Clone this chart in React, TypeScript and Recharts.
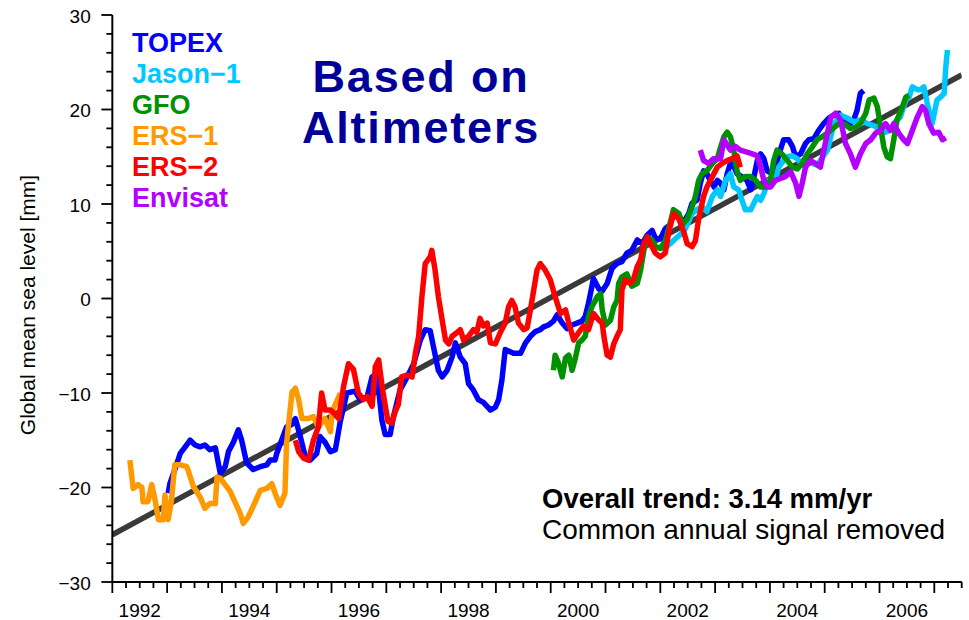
import React from "react";
import { LineChart, Line, XAxis, YAxis, Legend } from "recharts";

const FONT = '"Liberation Sans", Arial, Helvetica, sans-serif';

// [year, mm]
const topex: [number, number][] = [
  [1993.02, -20.6], [1993.05, -19.6], [1993.14, -18.1], [1993.24, -16.4], [1993.33, -15.7],
  [1993.42, -15.0], [1993.51, -15.5], [1993.6, -15.7], [1993.69, -15.5], [1993.78, -16.0],
  [1993.88, -15.8], [1993.97, -18.5], [1994.06, -17.8], [1994.12, -16.2], [1994.21, -15.2],
  [1994.3, -13.9], [1994.36, -15.0], [1994.45, -17.4], [1994.57, -18.1], [1994.7, -17.8],
  [1994.82, -17.6], [1994.88, -17.1], [1994.97, -17.1], [1995.0, -16.4], [1995.09, -15.0],
  [1995.18, -13.6], [1995.28, -13.3], [1995.34, -12.7], [1995.43, -14.6], [1995.52, -16.7],
  [1995.61, -17.1], [1995.73, -16.4], [1995.79, -14.6], [1995.88, -15.2], [1995.98, -16.2],
  [1996.07, -16.0], [1996.16, -13.0], [1996.28, -10.0], [1996.43, -9.8], [1996.52, -10.7],
  [1996.65, -10.4], [1996.74, -8.3], [1996.83, -8.0], [1996.92, -12.9], [1996.98, -14.4],
  [1997.07, -14.4], [1997.13, -12.5], [1997.25, -9.7], [1997.38, -8.3], [1997.5, -6.9],
  [1997.62, -4.4], [1997.71, -3.3], [1997.8, -3.4], [1997.86, -5.1], [1997.95, -7.6],
  [1998.02, -8.3], [1998.11, -7.6], [1998.2, -6.2], [1998.26, -4.7], [1998.35, -6.2],
  [1998.44, -6.9], [1998.5, -9.0], [1998.59, -9.7], [1998.68, -10.7], [1998.77, -11.0],
  [1998.9, -11.8], [1998.99, -11.5], [1999.05, -10.7], [1999.11, -8.6], [1999.17, -5.4],
  [1999.32, -5.8], [1999.45, -5.8], [1999.54, -4.7], [1999.63, -4.0], [1999.72, -3.5],
  [1999.81, -3.3], [1999.87, -3.0], [1999.96, -2.8], [2000.05, -2.4], [2000.12, -1.7],
  [2000.21, -2.6], [2000.3, -3.2], [2000.39, -2.8], [2000.48, -2.6], [2000.57, -2.4],
  [2000.63, -1.9], [2000.69, -0.5], [2000.78, 2.1], [2000.88, 1.0], [2000.94, 0.8],
  [2001.03, 1.6], [2001.12, 3.2], [2001.21, 3.7], [2001.3, 3.9], [2001.39, 4.8],
  [2001.48, 5.1], [2001.58, 6.2], [2001.67, 5.8], [2001.76, 6.7], [2001.85, 7.2],
  [2001.91, 6.4], [2002.0, 6.3], [2002.09, 7.4], [2002.18, 7.8], [2002.24, 9.0],
  [2002.34, 8.7], [2002.43, 8.1], [2002.52, 9.0], [2002.58, 10.1], [2002.67, 10.4],
  [2002.73, 12.2], [2002.79, 13.5], [2002.85, 13.2], [2002.91, 12.5], [2002.98, 11.8],
  [2003.04, 12.5], [2003.1, 12.2], [2003.16, 11.5], [2003.22, 13.2], [2003.28, 14.3],
  [2003.34, 14.0], [2003.4, 13.2], [2003.49, 12.9], [2003.58, 12.5], [2003.65, 11.5],
  [2003.71, 12.9], [2003.77, 14.6], [2003.83, 15.3], [2003.89, 14.8], [2003.95, 13.5],
  [2004.04, 13.2], [2004.1, 13.9], [2004.19, 15.7], [2004.25, 16.8], [2004.34, 16.8],
  [2004.41, 16.1], [2004.47, 15.0], [2004.56, 15.3], [2004.65, 16.4], [2004.71, 16.8],
  [2004.8, 16.9], [2004.89, 17.8], [2004.98, 18.5], [2005.08, 19.1], [2005.17, 19.4],
  [2005.26, 19.6], [2005.35, 18.9], [2005.44, 18.3], [2005.53, 18.9], [2005.59, 19.9],
  [2005.65, 21.7], [2005.71, 22.0],
];

const jason1: [number, number][] = [
  [2002.03, 5.1], [2002.18, 5.8], [2002.31, 6.5], [2002.43, 7.1], [2002.49, 7.8],
  [2002.58, 9.0], [2002.67, 9.4], [2002.76, 9.7], [2002.85, 9.2], [2002.95, 10.8],
  [2003.04, 11.5], [2003.1, 10.8], [2003.19, 12.5], [2003.28, 13.2], [2003.34, 11.8],
  [2003.43, 11.5], [2003.49, 10.4], [2003.55, 9.4], [2003.65, 9.4], [2003.71, 10.1],
  [2003.77, 10.8], [2003.83, 10.4], [2003.89, 11.1], [2003.95, 12.2], [2004.04, 12.9],
  [2004.1, 12.5], [2004.16, 13.9], [2004.25, 14.6], [2004.32, 15.0], [2004.41, 15.1],
  [2004.5, 14.8], [2004.59, 14.1], [2004.68, 14.3], [2004.77, 14.3], [2004.86, 14.1],
  [2005.05, 15.7], [2005.17, 18.5], [2005.29, 19.4], [2005.41, 19.1], [2005.53, 18.7],
  [2005.65, 18.9], [2005.78, 18.5], [2005.9, 18.3], [2006.02, 17.8], [2006.11, 17.6],
  [2006.2, 17.8], [2006.29, 18.7], [2006.38, 19.2], [2006.48, 21.0], [2006.54, 21.3],
  [2006.6, 22.4], [2006.69, 22.1], [2006.75, 22.1], [2006.81, 22.4], [2006.87, 20.7],
  [2006.96, 18.5], [2007.05, 21.0], [2007.11, 21.3], [2007.18, 21.7], [2007.21, 24.5],
  [2007.24, 26.3],
];

const gfo: [number, number][] = [
  [2000.05, -7.6], [2000.08, -6.0], [2000.14, -6.8], [2000.21, -8.3], [2000.27, -6.3],
  [2000.33, -6.0], [2000.39, -7.6], [2000.45, -6.3], [2000.51, -4.7], [2000.57, -4.4],
  [2000.63, -4.0], [2000.69, -1.9], [2000.75, -0.9], [2000.85, 0.2], [2000.91, 0.5],
  [2000.94, -1.2], [2001.0, -2.8], [2001.09, -2.3], [2001.15, -0.9], [2001.21, -0.2],
  [2001.24, 1.6], [2001.3, 2.3], [2001.39, 2.6], [2001.48, 1.3], [2001.58, 1.6],
  [2001.64, 3.0], [2001.7, 5.1], [2001.76, 6.5], [2001.85, 6.2], [2001.91, 5.5],
  [2002.0, 5.3], [2002.09, 6.1], [2002.18, 8.0], [2002.24, 9.4], [2002.34, 9.0],
  [2002.4, 7.8], [2002.49, 8.4], [2002.58, 9.7], [2002.64, 10.8], [2002.7, 12.5],
  [2002.76, 13.2], [2002.85, 13.5], [2002.95, 14.3], [2003.04, 14.8], [2003.1, 16.0],
  [2003.16, 17.1], [2003.22, 17.6], [2003.28, 17.1], [2003.34, 15.7], [2003.4, 13.5],
  [2003.46, 12.5], [2003.55, 12.9], [2003.65, 12.9], [2003.74, 12.5], [2003.83, 11.8],
  [2003.92, 11.8], [2004.01, 12.5], [2004.07, 14.6], [2004.13, 15.7], [2004.22, 15.3],
  [2004.32, 14.6], [2004.41, 13.9], [2004.5, 13.7], [2004.59, 14.3], [2004.68, 15.3],
  [2004.77, 16.0], [2004.86, 16.8], [2004.95, 17.1], [2005.05, 17.5], [2005.17, 18.1],
  [2005.26, 18.5], [2005.35, 18.5], [2005.47, 18.0], [2005.56, 18.1], [2005.65, 18.5],
  [2005.75, 19.6], [2005.81, 21.0], [2005.9, 21.2], [2005.96, 20.3], [2006.02, 18.1],
  [2006.08, 16.0], [2006.14, 15.0], [2006.2, 14.8], [2006.26, 16.8], [2006.32, 18.9],
  [2006.42, 20.3], [2006.48, 21.3], [2006.54, 21.5],
];

const ers1: [number, number][] = [
  [1992.32, -17.1], [1992.38, -20.1], [1992.47, -19.7], [1992.54, -20.0], [1992.56, -21.5],
  [1992.65, -21.5], [1992.72, -19.7], [1992.78, -21.3], [1992.84, -23.4], [1992.93, -23.4],
  [1992.96, -20.8], [1993.02, -23.4], [1993.08, -21.3], [1993.14, -17.6], [1993.24, -17.6],
  [1993.36, -17.8], [1993.48, -19.9], [1993.6, -21.0], [1993.69, -22.2], [1993.78, -21.7],
  [1993.88, -21.7], [1993.91, -18.9], [1993.97, -19.0], [1994.15, -20.4], [1994.33, -22.7],
  [1994.39, -23.8], [1994.48, -23.1], [1994.57, -22.0], [1994.7, -20.3], [1994.82, -20.1],
  [1994.91, -19.6], [1994.97, -20.6], [1995.06, -21.9], [1995.15, -20.6], [1995.18, -15.3],
  [1995.28, -9.9], [1995.34, -9.5], [1995.4, -10.7], [1995.46, -12.7], [1995.58, -12.7],
  [1995.67, -12.5], [1995.76, -13.6], [1995.88, -12.7], [1995.98, -14.1], [1996.01, -12.0],
  [1996.16, -10.0],
];

const ers2: [number, number][] = [
  [1995.34, -15.0], [1995.4, -16.2], [1995.49, -16.9], [1995.58, -17.1], [1995.67, -15.0],
  [1995.76, -13.6], [1995.82, -10.0], [1995.88, -11.8], [1995.98, -11.8], [1996.04, -12.1],
  [1996.13, -12.7], [1996.22, -9.3], [1996.31, -6.9], [1996.4, -7.5], [1996.49, -10.0],
  [1996.58, -10.7], [1996.65, -10.4], [1996.74, -11.4], [1996.8, -7.2], [1996.86, -6.5],
  [1996.93, -9.6], [1997.03, -13.0], [1997.1, -13.2], [1997.16, -12.0], [1997.22, -11.2],
  [1997.28, -8.3], [1997.38, -8.1], [1997.47, -8.3], [1997.53, -5.8], [1997.59, -4.0],
  [1997.65, 0.2], [1997.71, 3.7], [1997.8, 4.4], [1997.83, 5.1], [1997.89, 3.0],
  [1997.95, 0.2], [1998.02, -2.3], [1998.08, -4.4], [1998.14, -4.8], [1998.2, -4.0],
  [1998.29, -3.6], [1998.35, -3.3], [1998.41, -4.4], [1998.5, -4.0], [1998.59, -3.3],
  [1998.65, -3.6], [1998.71, -2.1], [1998.77, -2.9], [1998.84, -2.6], [1998.9, -4.7],
  [1998.99, -4.8], [1999.08, -3.6], [1999.17, -2.6], [1999.23, -0.9], [1999.29, -0.2],
  [1999.35, -0.9], [1999.41, -2.6], [1999.51, -3.3], [1999.57, -3.1], [1999.63, -1.2],
  [1999.69, 0.9], [1999.75, 3.0], [1999.81, 3.7], [1999.9, 3.0], [1999.99, 2.0],
  [2000.08, 0.2], [2000.18, -1.6], [2000.27, -1.2], [2000.33, -2.6], [2000.42, -4.4],
  [2000.51, -3.6], [2000.6, -2.9], [2000.69, -3.3], [2000.78, -1.6], [2000.88, -2.3],
  [2000.94, -2.6], [2000.97, -4.0], [2001.03, -6.0], [2001.09, -6.2], [2001.15, -4.8],
  [2001.21, -4.0], [2001.27, -3.3], [2001.3, 0.9], [2001.36, 2.0], [2001.45, 1.6],
  [2001.51, 2.0], [2001.58, 3.4], [2001.64, 4.1], [2001.7, 5.8], [2001.76, 6.5],
  [2001.82, 5.8], [2001.91, 4.8], [2002.0, 4.4], [2002.09, 4.8], [2002.15, 6.9],
  [2002.24, 9.0], [2002.34, 8.4], [2002.43, 7.0], [2002.49, 5.8], [2002.58, 5.5],
  [2002.64, 6.1], [2002.7, 8.4], [2002.79, 10.8], [2002.85, 11.8], [2002.95, 12.9],
  [2003.04, 13.9], [2003.13, 14.3], [2003.22, 14.6], [2003.31, 14.8], [2003.4, 15.1],
  [2003.46, 13.9],
];

const envisat: [number, number][] = [
  [2002.73, 15.7], [2002.79, 14.6], [2002.88, 14.3], [2002.97, 14.8], [2003.1, 14.8],
  [2003.16, 16.8], [2003.28, 15.7], [2003.37, 16.1], [2003.46, 15.7], [2003.58, 15.5],
  [2003.68, 15.3], [2003.77, 15.1], [2003.83, 13.9], [2003.89, 12.5], [2003.95, 11.8],
  [2004.01, 11.8], [2004.1, 12.5], [2004.19, 12.7], [2004.28, 12.9], [2004.38, 13.4],
  [2004.47, 12.2], [2004.53, 10.8], [2004.59, 12.2], [2004.65, 13.9], [2004.74, 14.6],
  [2004.83, 14.3], [2004.92, 13.9], [2005.01, 16.4], [2005.11, 19.2], [2005.2, 19.6],
  [2005.29, 18.9], [2005.38, 16.4], [2005.47, 15.3], [2005.56, 13.9], [2005.65, 15.3],
  [2005.75, 16.4], [2005.84, 16.8], [2005.93, 17.5], [2006.02, 17.8], [2006.11, 18.5],
  [2006.2, 17.8], [2006.26, 18.5], [2006.35, 17.5], [2006.44, 16.8], [2006.51, 16.4],
  [2006.6, 17.8], [2006.69, 19.2], [2006.78, 20.3], [2006.84, 19.9], [2006.9, 18.5],
  [2006.99, 17.5], [2007.08, 17.6], [2007.15, 16.8], [2007.21, 17.0],
];

// overall trend, 3.14 mm/yr, end points
const trend: [number, number][] = [[1992, -25.0], [2007.5, 23.65]];

const yearLabels = [1992, 1994, 1996, 1998, 2000, 2002, 2004, 2006];
const yLabels = [-30, -20, -10, 0, 10, 20, 30];

const X_DOMAIN: [number, number] = [1992, 2007.5];
const Y_DOMAIN: [number, number] = [-30, 30];

// quarter-year ticks, 2 mm ticks
const xTicks: number[] = [];
for (let q = 0; q <= 62; q++) xTicks.push(1992 + q / 4);
const yTicks: number[] = [];
for (let v = -30; v <= 30; v += 2) yTicks.push(v);

const series = [
  { name: "TOPEX", color: "#0000ff", pts: topex },
  { name: "Jason\u22121", color: "#00c8ff", pts: jason1 },
  { name: "GFO", color: "#009100", pts: gfo },
  { name: "ERS\u22121", color: "#ff9900", pts: ers1 },
  { name: "ERS\u22122", color: "#ff0000", pts: ers2 },
  { name: "Envisat", color: "#b300ff", pts: envisat },
];
// drawing order (later ones on top)
const drawOrder = ["TOPEX", "ERS\u22121", "Jason\u22121", "GFO", "ERS\u22122", "Envisat"];

const toRows = (pts: [number, number][]) => pts.map(([t, v]) => ({ t, v }));
const fmt = (v: number) => (v < 0 ? "\u2212" + Math.abs(v) : String(v));

const TICK = { stroke: "#000", strokeWidth: 1.8 };

const BottomTick = (props: any) => {
  const { x, y, payload } = props;
  const q = Math.round((payload.value - 1992) * 4);
  const len = q % 4 === 0 ? 11 : 6;
  const yr = Math.floor(payload.value);
  const label = q % 4 === 2 && yearLabels.includes(yr);
  return (
    <g>
      <line x1={x} y1={y} x2={x} y2={y + len} {...TICK} />
      {label && (
        <text x={x} y={y + 35} textAnchor="middle" fontSize={19} fontFamily={FONT} fill="#000">
          {yr}
        </text>
      )}
    </g>
  );
};

const TopTick = (props: any) => {
  const { x, y, payload } = props;
  const q = Math.round((payload.value - 1992) * 4);
  const len = q % 4 === 0 ? 11 : 6;
  return <line x1={x} y1={y} x2={x} y2={y - len} {...TICK} />;
};

const LeftTick = (props: any) => {
  const { x, y, payload } = props;
  const v = payload.value;
  const major = yLabels.includes(v);
  const len = major ? 11 : 6;
  return (
    <g>
      <line x1={x - len} y1={y} x2={x} y2={y} {...TICK} />
      {major && (
        <text x={x - 21.6} y={y + 7.5} textAnchor="end" fontSize={19} fontFamily={FONT} fill="#000">
          {fmt(v)}
        </text>
      )}
    </g>
  );
};

const RightTick = (props: any) => {
  const { x, y, payload } = props;
  const len = yLabels.includes(payload.value) ? 11 : 6;
  return <line x1={x} y1={y} x2={x + len} y2={y} {...TICK} />;
};

const renderLegend = () => (
  <div style={{ fontFamily: FONT, fontWeight: "bold", fontSize: 27, lineHeight: "31px" }}>
    {series.map((s) => (
      <div key={s.name} style={{ color: s.color }}>
        {s.name}
      </div>
    ))}
  </div>
);

const AXIS_LINE = { stroke: "#000", strokeWidth: 2 };

export default function App() {
  return (
    <div style={{ position: "absolute", left: 0, top: 0, width: 969, height: 620, background: "#fff" }}>
      <LineChart width={969} height={620} margin={{ top: 15, right: 7.3, bottom: 0, left: 12.33 }}>
        <XAxis
          dataKey="t" type="number" domain={X_DOMAIN} ticks={xTicks} interval={0} allowDataOverflow
          tick={<BottomTick />} tickLine={false} tickSize={0} tickMargin={0} axisLine={AXIS_LINE} height={38}
        />
        <XAxis
          xAxisId="top" orientation="top" dataKey="t" type="number" domain={X_DOMAIN} ticks={xTicks}
          interval={0} allowDataOverflow tick={<TopTick />} tickLine={false} tickSize={0} tickMargin={0}
          axisLine={AXIS_LINE} height={0}
        />
        <YAxis
          type="number" domain={Y_DOMAIN} ticks={yTicks} interval={0} allowDataOverflow
          tick={<LeftTick />} tickLine={false} tickSize={0} tickMargin={0} axisLine={AXIS_LINE} width={100}
        />
        <YAxis
          yAxisId="right" orientation="right" type="number" domain={Y_DOMAIN} ticks={yTicks} interval={0}
          allowDataOverflow tick={<RightTick />} tickLine={false} tickSize={0} tickMargin={0}
          axisLine={AXIS_LINE} width={0}
        />
        <Legend
          layout="horizontal" verticalAlign="middle" align="center" content={renderLegend}
          wrapperStyle={{ left: 132, top: 28, width: "auto", height: "auto" }}
        />
        <Line
          data={toRows(trend)} dataKey="v" name="trend" legendType="none" type="linear"
          stroke="#3a3a3a" strokeWidth={5.5} dot={false} activeDot={false} isAnimationActive={false}
        />
        {drawOrder.map((n) => {
          const s = series.find((d) => d.name === n)!;
          return (
            <Line
              key={s.name} data={toRows(s.pts)} dataKey="v" name={s.name} type="linear"
              stroke={s.color} strokeWidth={5.5} strokeLinejoin="round" dot={false} activeDot={false}
              isAnimationActive={false}
            />
          );
        })}
      </LineChart>

      <div
        style={{
          position: "absolute", left: 271, top: 51.2, width: 300, textAlign: "center",
          fontFamily: FONT, fontWeight: "bold", fontSize: 45, lineHeight: "51px",
          letterSpacing: 1.8, color: "#000099",
        }}
      >
        <div>Based on</div>
        <div>Altimeters</div>
      </div>

      <div
        style={{
          position: "absolute", left: 542, top: 483.3, fontFamily: FONT,
          lineHeight: "31px", color: "#000", whiteSpace: "nowrap",
        }}
      >
        <div style={{ fontWeight: "bold", fontSize: 27.5 }}>Overall trend: 3.14 mm/yr</div>
        <div style={{ fontSize: 28 }}>Common annual signal removed</div>
      </div>

      <div
        style={{
          position: "absolute", left: 27.75 - 150, top: 305 - 12, width: 300, height: 24,
          transform: "rotate(-90deg)", textAlign: "center", fontFamily: FONT, fontSize: 21,
          lineHeight: "24px", color: "#000", whiteSpace: "nowrap",
        }}
      >
        Global mean sea level [mm]
      </div>
    </div>
  );
}
